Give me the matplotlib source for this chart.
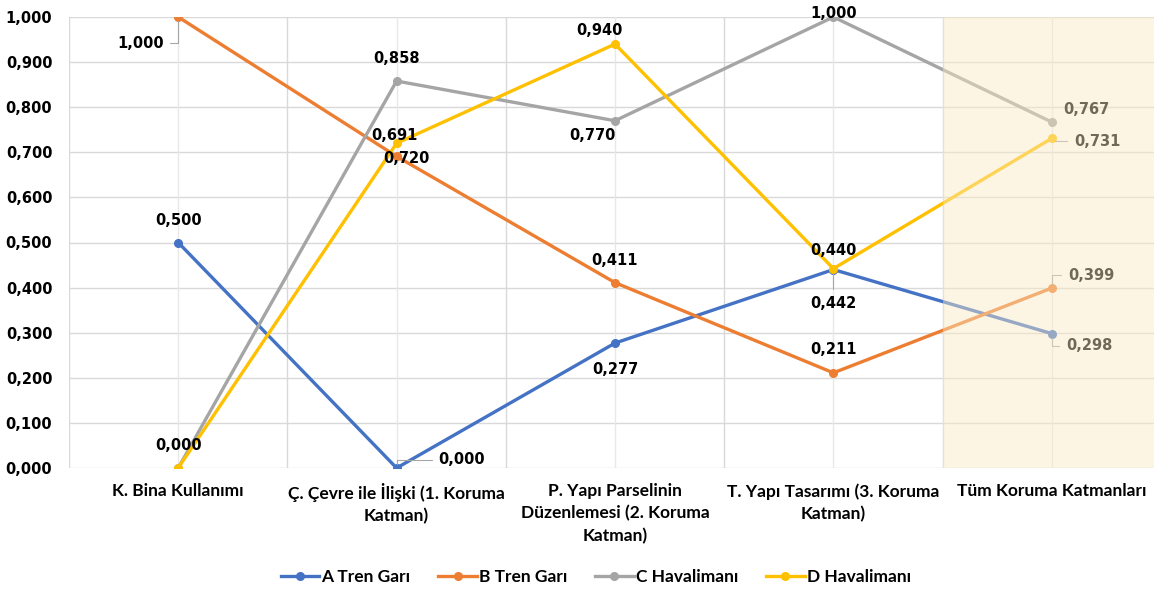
import numpy as np
import matplotlib.pyplot as plt
from matplotlib.ticker import FuncFormatter

categories = [
    "K. Bina Kullanımı",
    "Ç. Çevre ile İlişki (1. Koruma\nKatman)",
    "P. Yapı Parselinin\nDüzenlemesi (2. Koruma\nKatman)",
    "T. Yapı Tasarımı (3. Koruma\nKatman)",
    "Tüm Koruma Katmanları",
]
series_names = ["A Tren Garı", "B Tren Garı", "C Havalimanı", "D Havalimanı"]
a_tren = [0.500, 0.000, 0.277, 0.440, 0.298]
b_tren = [1.000, 0.691, 0.411, 0.211, 0.399]
c_hava = [0.000, 0.858, 0.770, 1.000, 0.767]
d_hava = [0.000, 0.720, 0.940, 0.442, 0.731]

colors = ["#4472C4", "#ED7D31", "#A5A5A5", "#FFC000"]

# label offsets in pixels (dx, dy, ha, leader line)
label_pos = [
    [(0, 22, "center", False), (42, 8, "left", True), (0, -26, "center", False),
     (0, 19, "center", False), (14, -12, "left", True)],
    [(-38, -26, "center", True), (-2, 21, "center", False), (0, 22, "center", False),
     (0, 23, "center", False), (16, 13, "left", True)],
    [(0, 22, "center", False), (0, 23, "center", False), (-23, -15, "center", False),
     (0, 4, "center", False), (11, 13, "left", False)],
    [None, (10, -15, "center", False), (-16, 14, "center", False),
     (0, -35, "center", True), (22, -3, "left", True)],
]

fmt = lambda v: f"{v:.3f}".replace(".", ",")
narrow = ["Lato", "DejaVu Sans"]

fig = plt.figure(figsize=(11.54, 5.90), dpi=100)
ax = fig.add_axes([69 / 1154, 122 / 590, 1092 / 1154, 451 / 590])

x = np.arange(len(categories))
data = [a_tren, b_tren, c_hava, d_hava]
for vals, col, name, lp in zip(data, colors, series_names, label_pos):
    ax.plot(x, vals, color=col, lw=2.4, marker="o", ms=5.5, label=name, zorder=3)
    for xi, v, p in zip(x, vals, lp):
        if p is None:
            continue
        dx, dy, ha, leader = p
        ax.annotate(fmt(v), (xi, v), xytext=(dx, dy), textcoords="offset pixels",
                    ha=ha, va="center", fontsize=10.5, fontweight="bold",
                    family="DejaVu Sans", color="black", zorder=4,
                    arrowprops=dict(arrowstyle="-", color="#A6A6A6", lw=0.8,
                                    shrinkA=3, shrinkB=3,
                                    connectionstyle="angle,angleA=0,angleB=90")
                    if leader else None)

# highlighted last category
ax.axvspan(3.5, 4.5, color="#FBEBC5", alpha=0.45, lw=0, zorder=5)

ax.set_xlim(-0.5, 4.5)
ax.set_ylim(0, 1.0)
ax.set_yticks(np.arange(0, 1.01, 0.1))
ax.yaxis.set_major_formatter(FuncFormatter(lambda v, _: fmt(v)))
ax.set_xticks(x)
ax.set_xticklabels(categories, fontsize=12.5, fontweight="bold",
                   family=narrow, linespacing=1.45)
for lbl in ax.get_yticklabels():
    lbl.set_fontweight("bold")
    lbl.set_fontsize(10.5)
ax.tick_params(length=0, axis="x", pad=11)
ax.tick_params(length=0, axis="y", pad=12)

for v in np.arange(-0.5, 4.51, 1.0):
    ax.axvline(v, color="#D9D9D9", lw=1, zorder=1)
for v in x:
    ax.axvline(v, color="#E8E8E8", lw=1, zorder=1)
ax.grid(axis="y", color="#D9D9D9", lw=1, zorder=1)
ax.set_axisbelow(True)
for s in ax.spines.values():
    s.set_visible(False)

fig.legend(loc="center", bbox_to_anchor=(596 / 1154, 1 - 577 / 590), ncol=4,
           frameon=False, handlelength=2.2, columnspacing=1.6, handletextpad=0.15,
           prop={"family": narrow, "weight": "bold", "size": 12.5})

fig.savefig("out.png", dpi=100)
